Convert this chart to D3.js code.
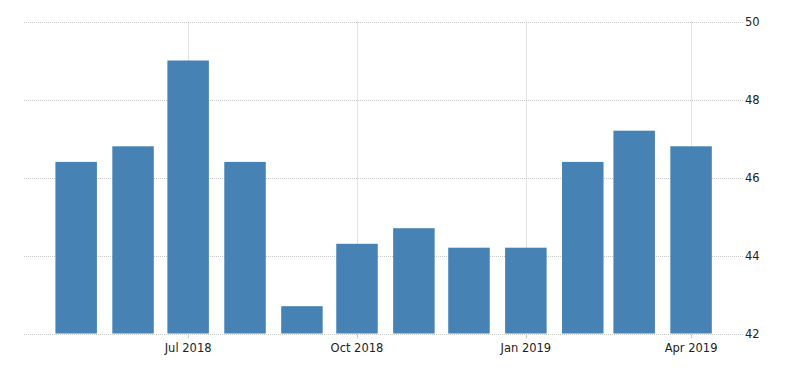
<!DOCTYPE html>
<html>
<head>
<meta charset="utf-8">
<script src="https://cdn.jsdelivr.net/npm/d3@7"></script>
<style>
  html, body { margin: 0; padding: 0; background: #fff; }
  svg { display: block; }
  text { font-family: "DejaVu Sans", Verdana, sans-serif; font-size: 11.5px; fill: #222; }
</style>
</head>
<body>
<script>
// Data
const months = ["2018-05-01","2018-06-01","2018-07-01","2018-08-01","2018-09-01","2018-10-01",
                "2018-11-01","2018-12-01","2019-01-01","2019-02-01","2019-03-01","2019-04-01"];
const values = [46.4, 46.8, 49.0, 46.4, 42.7, 44.3, 44.7, 44.2, 44.2, 46.4, 47.2, 46.8];
const xTickDates = ["2018-07-01","2018-10-01","2019-01-01","2019-04-01"];
const xTickLabels = ["Jul 2018","Oct 2018","Jan 2019","Apr 2019"];
const yTicks = [42, 44, 46, 48, 50];

(function () {
const W = 800, H = 373;
const pL = 24, pR = 743, pT = 21.5, pB = 333.5;
const parse = d3.utcParse("%Y-%m-%d");
const dates = months.map(parse);

const svg = d3.select("body").append("svg").attr("width", W).attr("height", H);

const x = d3.scaleUtc()
  .domain([d3.utcHour.offset(dates[0], -28.4 * 24), d3.utcHour.offset(dates[dates.length - 1], 28.3 * 24)])
  .range([pL, pR]);
const y = d3.scaleLinear().domain([42, 50]).range([pB, pT]);

// horizontal gridlines
svg.append("g").selectAll("line").data(yTicks).join("line")
  .attr("x1", pL).attr("x2", pR)
  .attr("y1", d => Math.round(y(d)) + 0.5).attr("y2", d => Math.round(y(d)) + 0.5)
  .attr("stroke", "#c8c8c8").attr("stroke-width", 1).attr("stroke-dasharray", "1,1");

// vertical gridlines
const tickDates = xTickDates.map(parse);
svg.append("g").selectAll("line").data(tickDates).join("line")
  .attr("x1", d => Math.round(x(d)) + 0.5).attr("x2", d => Math.round(x(d)) + 0.5)
  .attr("y1", pT).attr("y2", pB)
  .attr("stroke", "#c8c8c8").attr("stroke-width", 1).attr("stroke-dasharray", "1,1");

// bars
const bw = 41.5;
svg.append("g").selectAll("rect").data(values).join("rect")
  .attr("x", (d, i) => x(dates[i]) - bw / 2)
  .attr("width", bw)
  .attr("y", d => y(d))
  .attr("height", d => y(42) - y(d))
  .attr("fill", "#4682b4");

// x axis ticks and labels
const xa = svg.append("g");
xa.selectAll("line").data(tickDates).join("line")
  .attr("x1", d => Math.round(x(d)) + 0.5).attr("x2", d => Math.round(x(d)) + 0.5)
  .attr("y1", pB).attr("y2", pB + 5)
  .attr("stroke", "#ccc");
xa.selectAll("text").data(tickDates).join("text")
  .attr("x", d => x(d)).attr("y", 352)
  .attr("text-anchor", "middle")
  .text((d, i) => xTickLabels[i]);

// y axis labels (right)
svg.append("g").selectAll("text").data(yTicks).join("text")
  .attr("x", 745).attr("y", d => y(d) + 4)
  .attr("text-anchor", "start")
  .text(d => d);
})();
</script>
</body>
</html>
